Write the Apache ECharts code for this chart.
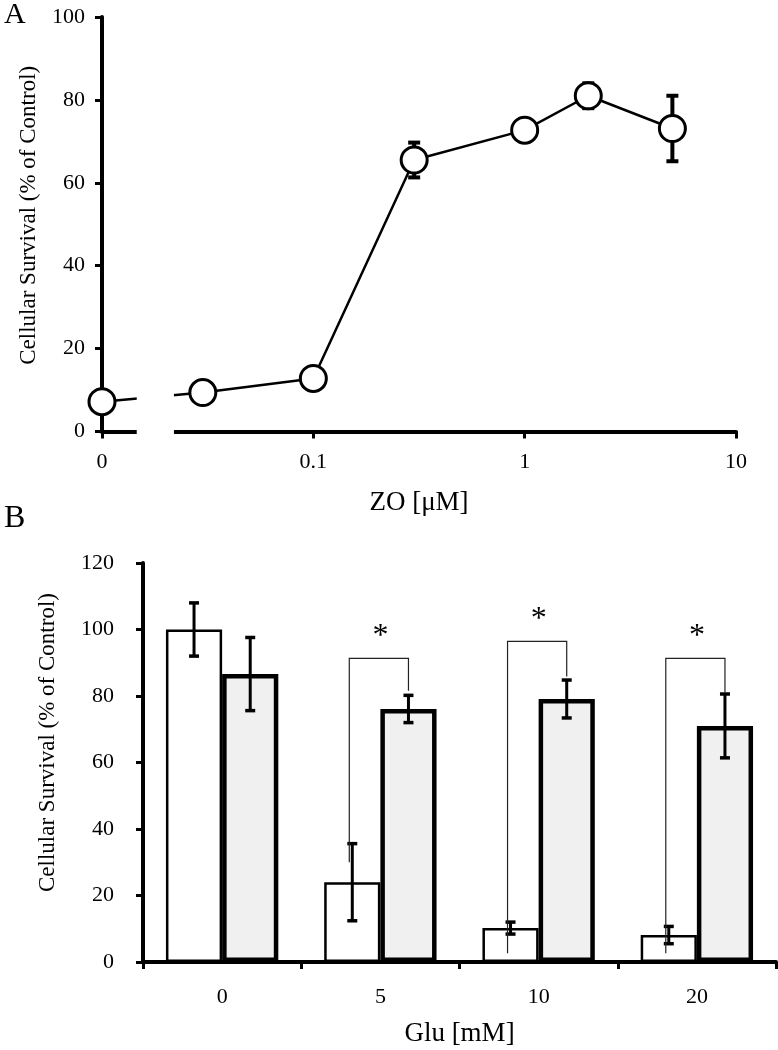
<!DOCTYPE html>
<html><head><meta charset="utf-8">
<script src="https://cdn.jsdelivr.net/npm/echarts@6/dist/echarts.min.js"></script>
<style>html,body{margin:0;padding:0;background:#fff}#c{width:778px;height:1050px}</style>
</head><body><div id="c"></div>
<script>
// ---------- Panel A data ----------
const doseTickLabels = ['0', '0.1', '1', '10'];
const zoDose = [0, 0.03, 0.1, 0.3, 1, 2, 5];
const zoSurvival = [7.2, 9.4, 12.8, 65.5, 72.7, 81.0, 73.1];
const zoError = [0, 0, 0, 4.2, 0, 3.0, 7.9];
const ZERO_POS = 0.01;           // where dose 0 sits on the broken log axis
const BREAK_FROM = 0.0146, BREAK_TO = 0.0219; // axis break (log units)
// ---------- Panel B data ----------
const gluCategories = ['0', '5', '10', '20'];
const gluOnly = [100, 24, 10.2, 8.1];
const gluOnlyErr = [8, 11.6, 1.8, 2.6];
const gluZO = [86.6, 76.1, 79.1, 71.0];
const gluZOErr = [11, 4.1, 5.7, 9.6];
const sigCategory = [1, 2, 3];
const sigTop = [91.3, 96.4, 91.3];
const sigLeftEnd = [30, 2.6, 2.6];
const sigRightEnd = [81.6, 85.9, 81.0];

const FONT = 'Liberation Serif';
const BAR_FRAC = 0.355;

const chart = echarts.init(document.getElementById('c'), null, {renderer: 'canvas'});

const lineData = zoDose.map((d, i) => [d === 0 ? ZERO_POS : d, zoSurvival[i]]);
const errAData = [];
zoDose.forEach((d, i) => { if (zoError[i] > 0) errAData.push([d === 0 ? ZERO_POS : d, zoSurvival[i], zoError[i]]); });

const errBData = [];
gluCategories.forEach((c, i) => {
  errBData.push([i, gluOnly[i], gluOnlyErr[i], 0]);
  errBData.push([i, gluZO[i], gluZOErr[i], 1]);
});
const sigData = sigCategory.map((c, k) => [c, sigLeftEnd[k], sigTop[k], sigRightEnd[k]]);

function axisCommon(extra) {
  return Object.assign({
    axisLine: {show: true, onZero: false, lineStyle: {color: '#000', width: 4}},
    axisTick: {show: true, inside: false, length: 7, lineStyle: {color: '#000', width: 3}},
    splitLine: {show: false},
    axisLabel: {color: '#000', fontFamily: FONT, fontSize: 22},
    nameTextStyle: {color: '#000', fontFamily: FONT, fontSize: 23}
  }, extra);
}

const letters = [
  {type: 'text', left: 4, top: 0, style: {text: 'A', fill: '#000', font: '30px "' + FONT + '"'}},
  {type: 'text', left: 4, top: 503, style: {text: 'B', fill: '#000', font: '32px "' + FONT + '"'}}
];

const option = {
  animation: false,
  backgroundColor: '#fff',
  grid: [
    {left: 102, top: 17, width: 634, height: 414.5},
    {left: 143, top: 563, width: 633, height: 399}
  ],
  xAxis: [
    axisCommon({
      gridIndex: 0, type: 'log', logBase: 10, min: 0.01, max: 10,
      minorTick: {show: false},
      axisLabel: {color: '#000', fontFamily: FONT, fontSize: 22, margin: 20,
        formatter: v => doseTickLabels[Math.round(Math.log10(v)) + 2]},
      name: 'ZO [μM]', nameLocation: 'middle', nameGap: 58,
      nameTextStyle: {color: '#000', fontFamily: FONT, fontSize: 27}
    }),
    axisCommon({
      gridIndex: 1, type: 'category', data: gluCategories,
      axisTick: {show: true, inside: false, alignWithLabel: false, length: 7, lineStyle: {color: '#000', width: 3}},
      axisLabel: {color: '#000', fontFamily: FONT, fontSize: 22, margin: 24},
      name: 'Glu [mM]', nameLocation: 'middle', nameGap: 58,
      nameTextStyle: {color: '#000', fontFamily: FONT, fontSize: 27}
    })
  ],
  yAxis: [
    axisCommon({
      gridIndex: 0, type: 'value', min: 0, max: 100, interval: 20,
      axisLabel: {color: '#000', fontFamily: FONT, fontSize: 22, margin: 17},
      name: 'Cellular Survival (% of Control)', nameLocation: 'middle', nameGap: 62,
      nameTextStyle: {color: '#000', fontFamily: FONT, fontSize: 23, padding: [0, 0, 0, 18]}
    }),
    axisCommon({
      gridIndex: 1, type: 'value', min: 0, max: 120, interval: 20,
      axisLabel: {color: '#000', fontFamily: FONT, fontSize: 22, margin: 29},
      name: 'Cellular Survival (% of Control)', nameLocation: 'middle', nameGap: 84,
      nameTextStyle: {color: '#000', fontFamily: FONT, fontSize: 23, padding: [0, 0, 0, 40]}
    })
  ],
  series: [
    {
      type: 'custom', xAxisIndex: 0, yAxisIndex: 0, z: 1, data: errAData,
      renderItem: function (params, api) {
        const x = api.value(0), v = api.value(1), e = api.value(2);
        const top = api.coord([x, v + e]), bot = api.coord([x, v - e]);
        const cx = top[0], cap = 6;
        return {type: 'group', children: [
          {type: 'line', shape: {x1: cx, y1: top[1], x2: cx, y2: bot[1]}, style: {stroke: '#000', lineWidth: 4}},
          {type: 'line', shape: {x1: cx - cap, y1: top[1], x2: cx + cap, y2: top[1]}, style: {stroke: '#000', lineWidth: 4}},
          {type: 'line', shape: {x1: cx - cap, y1: bot[1], x2: cx + cap, y2: bot[1]}, style: {stroke: '#000', lineWidth: 4}}
        ]};
      }
    },
    {
      type: 'line', xAxisIndex: 0, yAxisIndex: 0, z: 3, data: lineData,
      symbol: 'circle', symbolSize: 26,
      itemStyle: {color: '#fff', borderColor: '#000', borderWidth: 3},
      lineStyle: {color: '#000', width: 2.5}
    },
    {
      type: 'bar', xAxisIndex: 1, yAxisIndex: 1, data: gluOnly, z: 2,
      barWidth: (BAR_FRAC * 100) + '%', barGap: '0%',
      itemStyle: {color: '#fff', borderColor: '#000', borderWidth: 2.5}
    },
    {
      type: 'bar', xAxisIndex: 1, yAxisIndex: 1, data: gluZO, z: 2,
      barWidth: (BAR_FRAC * 100) + '%', barGap: '0%',
      itemStyle: {color: '#f0f0f0', borderColor: '#000', borderWidth: 4.5}
    },
    {
      type: 'custom', xAxisIndex: 1, yAxisIndex: 1, z: 4, data: errBData,
      renderItem: function (params, api) {
        const i = api.value(0), v = api.value(1), e = api.value(2), s = api.value(3);
        const band = api.size([1, 0])[0];
        const bw = band * BAR_FRAC;
        const c = api.coord([i, v]);
        const cx = c[0] + (s === 0 ? -bw / 2 : bw / 2);
        const top = api.coord([i, v + e])[1], bot = api.coord([i, v - e])[1];
        const cap = 5;
        return {type: 'group', children: [
          {type: 'line', shape: {x1: cx, y1: top, x2: cx, y2: bot}, style: {stroke: '#000', lineWidth: 3}},
          {type: 'line', shape: {x1: cx - cap, y1: top, x2: cx + cap, y2: top}, style: {stroke: '#000', lineWidth: 3.5}},
          {type: 'line', shape: {x1: cx - cap, y1: bot, x2: cx + cap, y2: bot}, style: {stroke: '#000', lineWidth: 3.5}}
        ]};
      }
    },
    {
      type: 'custom', xAxisIndex: 1, yAxisIndex: 1, z: 5, data: sigData,
      renderItem: function (params, api) {
        const i = api.value(0);
        const band = api.size([1, 0])[0];
        const bw = band * BAR_FRAC;
        const c = api.coord([i, api.value(2)]);
        const xl = c[0] - bw / 2 - 3, xr = c[0] + bw / 2;
        const yl = api.coord([i, api.value(1)])[1];
        const yt = c[1];
        const yr = api.coord([i, api.value(3)])[1];
        return {type: 'group', children: [
          {type: 'polyline', shape: {points: [[xl, yl], [xl, yt], [xr, yt], [xr, yr]]},
            style: {stroke: '#222', lineWidth: 1.2, fill: null}},
          {type: 'text', x: c[0], y: yt - 22,
            style: {text: '*', fill: '#000', font: '32px "' + FONT + '"', textAlign: 'center', textVerticalAlign: 'middle'}}
        ]};
      }
    }
  ],
  graphic: letters
};
chart.setOption(option);

// white mask that opens the axis break (and the line across it) on panel A
const p1 = chart.convertToPixel({xAxisIndex: 0, yAxisIndex: 0}, [BREAK_FROM, 16]);
const p2 = chart.convertToPixel({xAxisIndex: 0, yAxisIndex: 0}, [BREAK_TO, 0]);
chart.setOption({graphic: letters.concat([
  {type: 'rect', z: 100, shape: {x: p1[0], y: p1[1], width: p2[0] - p1[0], height: p2[1] - p1[1] + 8},
    style: {fill: '#fff'}}
])}, {replaceMerge: ['graphic']});
</script></body></html>
